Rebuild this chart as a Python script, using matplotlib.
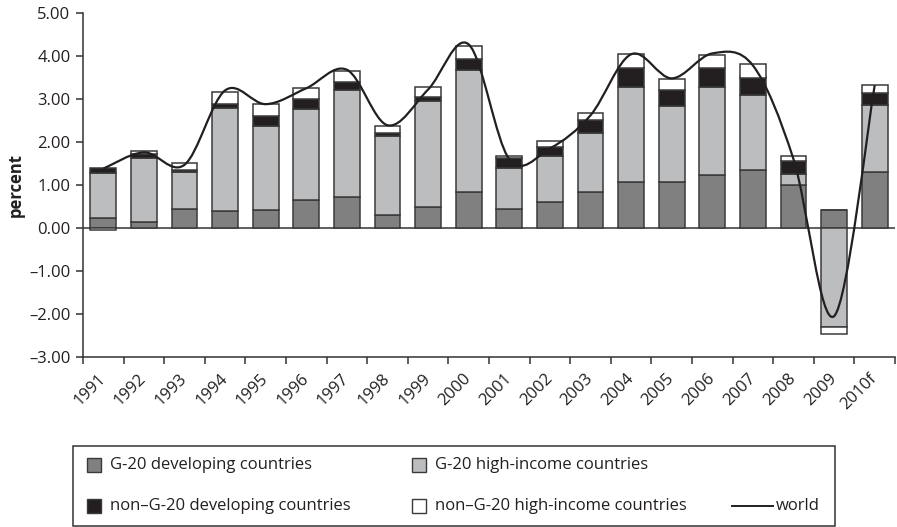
import matplotlib.pyplot as plt
import numpy as np
from matplotlib.patches import Rectangle, PathPatch
from matplotlib.path import Path
from matplotlib.lines import Line2D

plt.rcParams['font.family'] = ['Open Sans', 'DejaVu Sans']

years = ["1991", "1992", "1993", "1994", "1995", "1996", "1997", "1998", "1999", "2000",
         "2001", "2002", "2003", "2004", "2005", "2006", "2007", "2008", "2009", "2010f"]
g20_developing = [0.23, 0.13, 0.44, 0.39, 0.41, 0.64, 0.71, 0.31, 0.49, 0.83,
                  0.44, 0.61, 0.84, 1.08, 1.06, 1.24, 1.35, 1.00, 0.41, 1.30]
g20_high_income = [1.05, 1.49, 0.87, 2.39, 1.97, 2.12, 2.49, 1.84, 2.46, 2.85,
                   0.96, 1.07, 1.38, 2.21, 1.78, 2.05, 1.74, 0.25, -2.31, 1.57]
non_g20_developing = [0.12, 0.10, 0.05, 0.10, 0.22, 0.25, 0.20, 0.07, 0.10, 0.24,
                      0.23, 0.21, 0.30, 0.42, 0.37, 0.42, 0.41, 0.31, 0.02, 0.27]
non_g20_high_income = [-0.05, 0.07, 0.16, 0.28, 0.28, 0.25, 0.26, 0.16, 0.23, 0.32,
                       0.05, 0.14, 0.16, 0.34, 0.25, 0.31, 0.31, 0.11, -0.16, 0.18]
world = [1.38, 1.76, 1.47, 3.20, 2.88, 3.25, 3.68, 2.39, 3.22, 4.27,
         1.60, 1.85, 2.62, 4.04, 3.48, 4.06, 3.78, 1.60, -2.05, 3.32]

legend_labels = ["G-20 developing countries", "G-20 high-income countries",
                 "non\u2013G-20 developing countries", "non\u2013G-20 high-income countries",
                 "world"]

C_DEV = "#808080"
C_HIGH = "#bcbdbf"
C_NDEV = "#231f20"
C_NHIGH = "#ffffff"
EDGE = "#3a3a3a"
AXC = "#333333"

W, H = 897, 527


def fx(px):
    return px / W


def fy(py):
    return 1 - py / H


fig = plt.figure(figsize=(W / 100, H / 100), dpi=100)
ax = fig.add_axes([fx(83), fy(357), (895 - 83) / W, (357 - 13) / H])

x = np.arange(len(years))
pos = np.zeros(len(years))
neg = np.zeros(len(years))
for vals, col in [(g20_developing, C_DEV), (g20_high_income, C_HIGH),
                  (non_g20_developing, C_NDEV), (non_g20_high_income, C_NHIGH)]:
    v = np.array(vals)
    bottom = np.where(v >= 0, pos, neg)
    ax.bar(x, v, 0.64, bottom=bottom, color=col, edgecolor=EDGE, linewidth=1.1, zorder=2)
    pos += np.clip(v, 0, None)
    neg += np.clip(v, None, 0)

# smoothed world line (Catmull-Rom style bezier, like the spreadsheet's smoothed line)
pts = np.column_stack([x, world]).astype(float)
n = len(pts)
verts = [pts[0]]
codes = [Path.MOVETO]
for i in range(n - 1):
    p0 = pts[max(i - 1, 0)]
    p1 = pts[i]
    p2 = pts[i + 1]
    p3 = pts[min(i + 2, n - 1)]
    verts += [p1 + (p2 - p0) / 6, p2 - (p3 - p1) / 6, p2]
    codes += [Path.CURVE4] * 3
ax.add_patch(PathPatch(Path(verts, codes), fill=False, edgecolor=C_NDEV, lw=1.6, zorder=4))

ax.axhline(0, color=AXC, lw=1.1, zorder=1.5)

ax.set_xlim(-0.5, len(years) - 0.5)
ax.set_ylim(-3, 5)
for s in ["top", "right"]:
    ax.spines[s].set_visible(False)
for s in ["left", "bottom"]:
    ax.spines[s].set_color(AXC)
    ax.spines[s].set_linewidth(1.1)

yt = np.arange(-3, 6)
ax.set_yticks(yt)
ax.set_yticklabels([f"{v:.2f}".replace("-", "\u2013") for v in yt])
ax.tick_params(axis="y", length=5, width=1.1, color=AXC, labelsize=12, pad=4, labelcolor="#231f20")

ax.set_xticks(np.arange(len(years) + 1) - 0.5)
ax.set_xticklabels([])
ax.set_xticks(x, minor=True)
ax.set_xticklabels(years, minor=True, rotation=45, ha="right", va="center",
                   rotation_mode="anchor", fontsize=12, color="#231f20")
ax.tick_params(axis="x", which="major", length=5, width=1.1, color=AXC)
ax.tick_params(axis="x", which="minor", length=0, pad=14)

ax.set_ylabel("percent", fontsize=12, fontweight="bold", color="#231f20", labelpad=3)

# legend box
fig.add_artist(Rectangle((fx(73), fy(526)), (835 - 73) / W, (526 - 446) / H,
                         transform=fig.transFigure, fill=False, edgecolor=AXC, lw=1.1))
sq_w, sq_h = 14, 14
items = [(87, 465, C_DEV, legend_labels[0]), (412, 465, C_HIGH, legend_labels[1]),
         (87, 506, C_NDEV, legend_labels[2]), (412, 506, C_NHIGH, legend_labels[3])]
for hx, hy, col, lab in items:
    fig.add_artist(Rectangle((fx(hx), fy(hy + sq_h / 2)), sq_w / W, sq_h / H,
                             transform=fig.transFigure, facecolor=col, edgecolor=EDGE, lw=1.0))
    fig.text(fx(hx + 23), fy(hy), lab, fontsize=12, va="center", ha="left", color="#231f20")
fig.add_artist(Line2D([fx(732), fx(773)], [fy(506), fy(506)], transform=fig.transFigure,
                      color=C_NDEV, lw=1.4))
fig.text(fx(776), fy(506), legend_labels[4], fontsize=12, va="center", ha="left", color="#231f20")

fig.savefig("out.png", dpi=100)
